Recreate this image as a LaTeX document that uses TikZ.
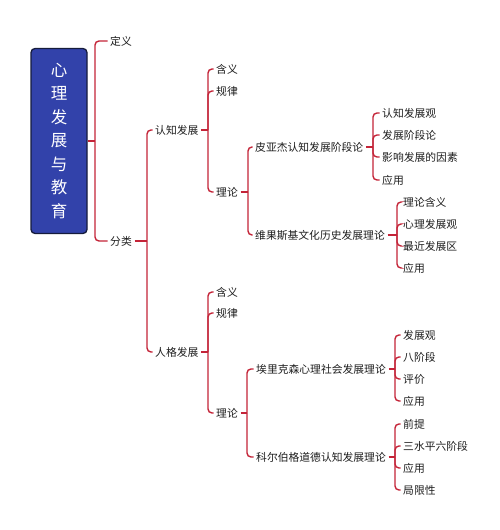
\documentclass[tikz,border=0pt]{standalone}
\usepackage{fontspec}
\setmainfont{Noto Sans CJK SC}
\definecolor{linec}{RGB}{196,36,56}
\definecolor{rootfill}{RGB}{50,66,170}
\definecolor{rootdraw}{RGB}{22,28,60}
\definecolor{txt}{RGB}{30,30,30}
\tikzset{
  lbl/.style={anchor=west, inner xsep=2.5pt, inner ysep=1pt, font=\fontsize{10.8}{12}\selectfont, text=txt},
  br/.style={draw=linec, line width=1.4pt, rounded corners=4pt},
  rootbox/.style={draw=rootdraw, fill=rootfill, line width=1.3pt, rounded corners=4pt, minimum width=56pt, minimum height=185pt, text=white, align=center, font=\fontsize{16.5}{23.5}\selectfont, inner sep=0pt}
}
\begin{document}
\begin{tikzpicture}[x=1pt,y=1pt]
\useasboundingbox[fill=white] (0,0) rectangle (500,-530);
% root
\node[rootbox] (root) at (59,-141) {心\\理\\发\\展\\与\\教\\育};
% level 1
\node[lbl] (dy) at (107.5,-41) {定义};
\node[lbl] (fl) at (107.5,-241) {分类};
% level 2
\node[lbl] (rz) at (152.5,-130) {认知发展};
\node[lbl] (rg) at (152.5,-352) {人格发展};
% level 3 cognitive
\node[lbl] (rzhy) at (213.5,-69) {含义};
\node[lbl] (rzgl) at (213.5,-91) {规律};
\node[lbl] (rzll) at (213.5,-192) {理论};
% level 3 personality
\node[lbl] (rghy) at (213.5,-292) {含义};
\node[lbl] (rggl) at (213.5,-313) {规律};
\node[lbl] (rgll) at (213.5,-413) {理论};
% level 4
\node[lbl] (pyj) at (252.5,-147) {皮亚杰认知发展阶段论};
\node[lbl] (wgs) at (252.5,-235) {维果斯基文化历史发展理论};
\node[lbl] (alk) at (253.5,-369) {埃里克森心理社会发展理论};
\node[lbl] (keb) at (253.5,-457) {科尔伯格道德认知发展理论};
% level 5
\node[lbl] (p1) at (379.5,-113) {认知发展观};
\node[lbl] (p2) at (379.5,-135) {发展阶段论};
\node[lbl] (p3) at (379.5,-157) {影响发展的因素};
\node[lbl] (p4) at (379.5,-180) {应用};
\node[lbl] (w1) at (400.5,-202) {理论含义};
\node[lbl] (w2) at (400.5,-224) {心理发展观};
\node[lbl] (w3) at (400.5,-246) {最近发展区};
\node[lbl] (w4) at (400.5,-268) {应用};
\node[lbl] (a1) at (400.5,-335) {发展观};
\node[lbl] (a2) at (400.5,-357) {八阶段};
\node[lbl] (a3) at (400.5,-379) {评价};
\node[lbl] (a4) at (400.5,-401) {应用};
\node[lbl] (k1) at (400.5,-424) {前提};
\node[lbl] (k2) at (400.5,-446) {三水平六阶段};
\node[lbl] (k3) at (400.5,-468) {应用};
\node[lbl] (k4) at (400.5,-490) {局限性};
% junctions
\coordinate (jroot) at (95,-141);
\coordinate (jfl) at (147,-241);
\coordinate (jrz) at (208,-130);
\coordinate (jrg) at (208,-352);
\coordinate (jrzll) at (248,-192);
\coordinate (jrgll) at (247,-413);
\coordinate (jpyj) at (373,-147);
\coordinate (jwgs) at (397,-235);
\coordinate (jalk) at (395,-369);
\coordinate (jkeb) at (395,-457);
% connectors
\draw[br] (root.east) -- (jroot);
\foreach \c in {dy,fl} \draw[br] (jroot) |- (\c.west);
\draw[br] (fl.east) -- (jfl);
\foreach \c in {rz,rg} \draw[br] (jfl) |- (\c.west);
\draw[br] (rz.east) -- (jrz);
\foreach \c in {rzhy,rzgl,rzll} \draw[br] (jrz) |- (\c.west);
\draw[br] (rg.east) -- (jrg);
\foreach \c in {rghy,rggl,rgll} \draw[br] (jrg) |- (\c.west);
\draw[br] (rzll.east) -- (jrzll);
\foreach \c in {pyj,wgs} \draw[br] (jrzll) |- (\c.west);
\draw[br] (rgll.east) -- (jrgll);
\foreach \c in {alk,keb} \draw[br] (jrgll) |- (\c.west);
\draw[br] (pyj.east) -- (jpyj);
\foreach \c in {p1,p2,p3,p4} \draw[br] (jpyj) |- (\c.west);
\draw[br] (wgs.east) -- (jwgs);
\foreach \c in {w1,w2,w3,w4} \draw[br] (jwgs) |- (\c.west);
\draw[br] (alk.east) -- (jalk);
\foreach \c in {a1,a2,a3,a4} \draw[br] (jalk) |- (\c.west);
\draw[br] (keb.east) -- (jkeb);
\foreach \c in {k1,k2,k3,k4} \draw[br] (jkeb) |- (\c.west);
\end{tikzpicture}
\end{document}
